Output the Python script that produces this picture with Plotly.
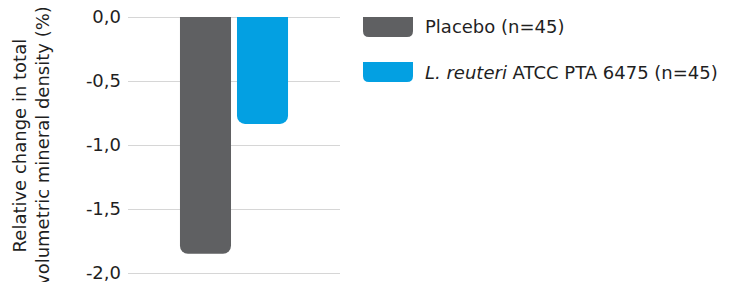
import plotly.graph_objects as go

categories = [""]
series_names = ["Placebo (n=45)", "<i>L. reuteri</i> ATCC PTA 6475 (n=45)"]
series_values = [[-1.85], [-0.835]]
series_colors = ["#5f6062", "#03a0e2"]
tick_values = [0, -0.5, -1.0, -1.5, -2.0]
tick_labels = ["0,0", "-0,5", "-1,0", "-1,5", "-2,0"]
y_title = "Relative change in total<br>volumetric mineral density (%)"

OFF = 8  # page body margin
W, H = 742 - OFF, 282 - OFF
L, R, T, B = 120, 402, 3, 3
pw, ph = W - L - R, H - T - B
scale = 128.0
y_top = (17 - OFF - T) / scale
y_bot = y_top - ph / scale
FONT = "DejaVu Sans, sans-serif"
TXT = "#1f1f1f"

fig = go.Figure()
for name, vals, col in zip(series_names, series_values, series_colors):
    fig.add_trace(go.Bar(x=categories, y=vals, name=name,
                         marker=dict(color=col, cornerradius=8, line=dict(width=0)),
                         showlegend=False))

def px_x(p):
    return (p - OFF - L) / pw

def px_y(p):
    return (H - B - (p - OFF)) / ph

shapes = []
annotations = []
sw_x0, sw_x1, sw_h, r = 363, 413, 20, 6
for i, (name, col) in enumerate(zip(series_names, series_colors)):
    top = 17 + i * 45
    bot = top + sw_h
    x0, x1 = px_x(sw_x0), px_x(sw_x1)
    yt, yb = px_y(top), px_y(bot)
    rx, ry = r / pw, r / ph
    path = (f"M {x0},{yt} L {x1},{yt} L {x1},{yb+ry} Q {x1},{yb} {x1-rx},{yb} "
            f"L {x0+rx},{yb} Q {x0},{yb} {x0},{yb+ry} Z")
    shapes.append(dict(type="path", path=path, xref="paper", yref="paper",
                       fillcolor=col, line=dict(width=0)))
    annotations.append(dict(text=name, x=px_x(423), y=px_y((top + bot) / 2),
                            xref="paper", yref="paper", xanchor="left", yanchor="middle",
                            showarrow=False, font=dict(family=FONT, size=18, color=TXT)))

annotations.append(dict(text=y_title, textangle=-90, x=px_x(31), y=px_y(146),
                        xref="paper", yref="paper", xanchor="center", yanchor="middle",
                        showarrow=False, font=dict(family=FONT, size=18, color=TXT)))

fig.update_layout(
    width=W, height=H, margin=dict(l=L, r=R, t=T, b=B, autoexpand=False),
    paper_bgcolor="white", plot_bgcolor="white",
    barmode="group", bargap=0.462, bargroupgap=0.105,
    font=dict(family=FONT, color=TXT),
    shapes=shapes, annotations=annotations,
    xaxis=dict(showticklabels=False, showgrid=False, zeroline=False, showline=False,
               range=[-0.5, 0.5], automargin=False),
    yaxis=dict(range=[y_bot, y_top], tickvals=tick_values, ticktext=tick_labels,
               showgrid=True, gridcolor="#d6d6d6", gridwidth=1,
               zeroline=False, showline=False, ticks="", ticklabelstandoff=6,
               ticklabeloverflow="allow", automargin=False,
               tickfont=dict(family=FONT, size=18, color=TXT)),
)

fig.write_html("out.html")
